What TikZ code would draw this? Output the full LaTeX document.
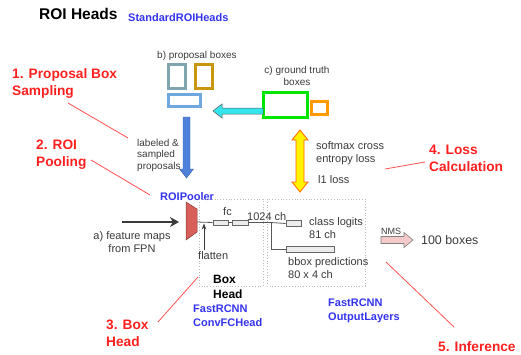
\documentclass[tikz,border=0pt]{standalone}
\usepackage{fontspec}
\setmainfont{Liberation Sans}
\usetikzlibrary{arrows.meta}
\definecolor{redlbl}{HTML}{FF1F1F}
\definecolor{bluelbl}{HTML}{3333EE}
\definecolor{txt}{HTML}{3A3A3A}
\definecolor{leadred}{HTML}{FF5050}
\definecolor{teal}{HTML}{7FA6AE}
\definecolor{gold}{HTML}{C8960F}
\definecolor{lblue}{HTML}{6FA8DC}
\definecolor{arrblue}{HTML}{4F81DA}
\definecolor{arrcyan}{HTML}{33E6EE}
\definecolor{gtgreen}{HTML}{00E600}
\definecolor{gtorange}{HTML}{FF9900}
\definecolor{pooler}{HTML}{D9605A}
\definecolor{nmspink}{HTML}{F4CACA}
\begin{document}
\begin{tikzpicture}[x=1pt,y=-1pt,
  redlabel/.style={text=redlbl,font=\fontsize{13.7}{17}\selectfont\bfseries,align=left,anchor=base west,inner sep=0pt},
  bluelabel/.style={text=bluelbl,font=\fontsize{11}{14}\selectfont\bfseries,align=left,anchor=base west,inner sep=0pt},
  graytext/.style={text=txt,font=\fontsize{11}{13}\selectfont,align=left,anchor=base west,inner sep=0pt},
  smalltext/.style={text=txt,font=\fontsize{10}{11.5}\selectfont,align=left,anchor=base west,inner sep=0pt},
  leader/.style={draw=leadred,line width=0.8pt},
  propbox/.style={draw=#1,line width=2.2pt,inner sep=0pt,minimum width=0pt,minimum height=0pt},
  dotbox/.style={draw=gray!55,dotted,line width=0.8pt},
  fcbox/.style={draw=gray!80!black,fill=gray!15,line width=0.6pt,inner sep=0pt},
  thinline/.style={draw=gray!70!black,line width=0.8pt},
]
\useasboundingbox (0,0) rectangle (521,354);

% titles
\node[anchor=base west,inner sep=0pt,font=\fontsize{15.5}{18}\selectfont\bfseries] (title) at (39,19) {ROI Heads};
\node[bluelabel] (std) at (128,21) {StandardROIHeads};

% red step labels (base = last line)
\node[redlabel] (l1) at (12,95) {1. Proposal Box\\Sampling};
\node[redlabel] (l2) at (36,166) {2. ROI\\Pooling};
\node[redlabel] (l3) at (106,346) {3. Box\\Head};
\node[redlabel] (l4) at (429,171) {4. Loss\\Calculation};
\node[redlabel] (l5) at (438,351) {5. Inference};

\coordinate (a1) at (68,103); \coordinate (b1) at (128,138);
\coordinate (a2) at (91,160); \coordinate (b2) at (150,195);
\coordinate (a3) at (158,322); \coordinate (b3) at (198,277);
\coordinate (a4) at (385,169); \coordinate (b4) at (425,162);
\coordinate (a5) at (386,262); \coordinate (b5) at (454,327);
\draw[leader] (a1) -- (b1);
\draw[leader] (a2) -- (b2);
\draw[leader] (a3) -- (b3);
\draw[leader] (a4) -- (b4);
\draw[leader] (a5) -- (b5);

% proposal boxes
\node[smalltext] (bprop) at (157,58) {b) proposal boxes};
\node[propbox=teal,minimum width=17pt,minimum height=24pt] (pb1) at (177,76.5) {};
\node[propbox=gold,minimum width=17pt,minimum height=24pt] (pb2) at (204,76.5) {};
\node[propbox=lblue,minimum width=32pt,minimum height=12pt] (pb3) at (184.5,100.5) {};

% blue down arrow
\filldraw[fill=arrblue,draw=arrblue!75!black,line width=0.4pt]
  (183,117) -- (190,117) -- (190,169) -- (193.5,169) -- (186.5,178) -- (179.5,169) -- (183,169) -- cycle;
\node[smalltext] (lab) at (137,169) {labeled \&\\sampled\\proposals};

% ground truth
\node[text=txt,font=\fontsize{10}{11.5}\selectfont,align=center,inner sep=0pt,anchor=base] (gtl) at (297,85) {c) ground truth\\boxes};
\node[propbox=gtgreen,minimum width=44pt,minimum height=25pt] (gt1) at (285.5,105) {};
\node[propbox=gtorange,minimum width=16pt,minimum height=13pt] (gt2) at (319.5,108) {};
\filldraw[fill=arrcyan,draw=gray!70!black,line width=0.5pt]
  (263,108) -- (222,108) -- (222,104) -- (213,111) -- (222,118) -- (222,114) -- (263,114) -- cycle;

% yellow double arrow
\filldraw[fill=yellow,draw=orange!80!red,line width=0.8pt]
  (300,130) -- (308,140) -- (304,140) -- (304,182) -- (308,182) -- (300,192) -- (292,182) -- (296,182) -- (296,140) -- (292,140) -- cycle;
\node[graytext] (sm) at (316,162) {softmax cross\\entropy loss};
\node[graytext] (l1l) at (318,183) {l1 loss};

% ROI pooler
\node[bluelabel] (pool) at (160,200) {ROIPooler};
\filldraw[fill=pooler,draw=pooler!60!black,line width=0.5pt]
  (186,202) -- (197,209) -- (197,232) -- (186,240) -- cycle;
\coordinate (poolin) at (179,222);
\coordinate (poolout) at (197,222);
\coordinate (fmstart) at (122,222);
\draw[draw=txt,line width=2.2pt,-{Stealth[length=9pt,width=10pt]}] (fmstart) -- (poolin);
\node[graytext,align=center,anchor=base] (fm) at (132,252) {a) feature maps\\from FPN};

% dotted boxes
\draw[dotbox] (199,199) rectangle (263,286);
\draw[dotbox] (267,199) rectangle (365,286);

% fc chain
\node[fcbox,minimum width=15pt,minimum height=5pt] (fc1) at (220.5,222.5) {};
\node[fcbox,minimum width=16pt,minimum height=5pt] (fc2) at (240,222.5) {};
\node[fcbox,minimum width=15pt,minimum height=5.5pt] (cls) at (293.5,223.5) {};
\node[fcbox,minimum width=48pt,minimum height=6pt] (bbx) at (310,249) {};
\coordinate (split) at (271,222.5);
\draw[thinline] (poolout) -- (fc1.west);
\draw[thinline] (fc1.east) -- (fc2.west);
\draw[thinline] (fc2.east) -- (split) -- (cls.west);
\draw[thinline] (split) |- (bbx.west);
\coordinate (flb) at (204,250);
\coordinate (flt) at (204,223.5);
\draw[draw=txt,line width=0.7pt,-{Stealth[length=6pt,width=4.5pt]}] (flb) -- (flt);
\node[graytext] (flat) at (198,259) {flatten};
\node[graytext] (fc) at (223,215) {fc};
\node[graytext] (ch) at (247,220) {1024 ch};
\node[graytext] (clst) at (309,238) {class logits\\81 ch};
\node[graytext] (bbxt) at (288,278) {bbox predictions\\80 x 4 ch};

\node[anchor=base west,inner sep=0pt,font=\fontsize{12}{15}\selectfont\bfseries,align=left] (bh) at (213,298) {Box\\Head};
\node[bluelabel] (conv) at (193,326) {FastRCNN\\ConvFCHead};
\node[bluelabel] (outl) at (328,320) {FastRCNN\\OutputLayers};

% NMS
\filldraw[fill=nmspink,draw=gray,line width=0.6pt]
  (381,236.5) -- (404,236.5) -- (404,232.5) -- (413,240) -- (404,247.5) -- (404,243.5) -- (381,243.5) -- cycle;
\node[text=txt,font=\fontsize{9}{10}\selectfont,anchor=base west,inner sep=0pt] (nms) at (381,234) {NMS};
\node[text=txt,font=\fontsize{12.4}{14}\selectfont,anchor=base west,inner sep=0pt] (out) at (421,244) {100 boxes};
\end{tikzpicture}
\end{document}
